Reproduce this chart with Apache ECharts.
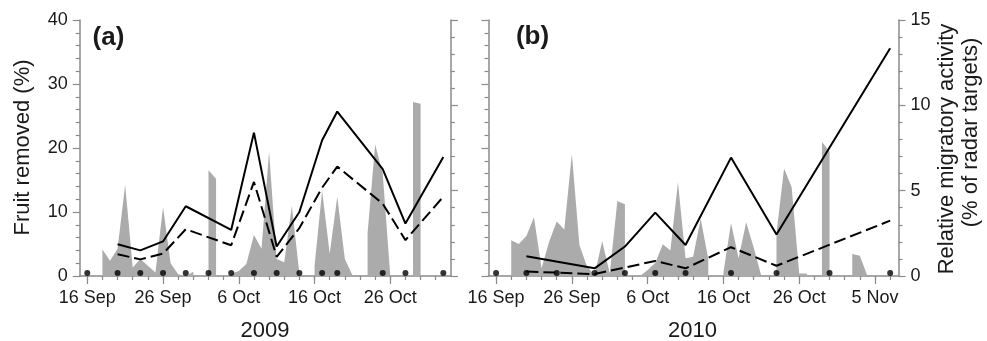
<!DOCTYPE html>
<html><head><meta charset="utf-8">
<script src="https://cdn.jsdelivr.net/npm/echarts@6/dist/echarts.min.js"></script>
<style>html,body{margin:0;padding:0;background:#fff}#c{width:987px;height:341px}</style>
</head><body><div id="c"></div>
<script>
// Days counted from 16 Sep of each year
const tickDays2009 = [0, 10, 20, 30, 40];
const tickLabels2009 = ['16 Sep', '26 Sep', '6 Oct', '16 Oct', '26 Oct'];
const tickDays2010 = [0, 10, 20, 30, 40, 50];
const tickLabels2010 = ['16 Sep', '26 Sep', '6 Oct', '16 Oct', '26 Oct', '5 Nov'];
const minorDays2009 = [0,2,4,6,8,10,12,14,16,18,20,22,24,26,28,30,32,34,36,38,40,42,44,46];
const minorDays2010 = [0,2,4,6,8,10,12,14,16,18,20,22,24,26,28,30,32,34,36,38,40,42,44,46,48,50,52];

// Sampling dates (black dots)
const sampleDays2009 = [0, 4, 7, 10, 13, 16, 19, 22, 25, 28, 31, 33, 39, 42, 47];
const sampleDays2010 = [0, 4, 8, 13, 17, 21, 25, 31, 37, 44, 52];

// Fruit removed (%) — solid and dashed lines
const fruitDays2009 = [4, 7, 10, 13, 19, 22, 25, 28, 31, 33, 39, 42, 47];
const fruitSolid2009 = [4.95, 4.0, 5.4, 10.9, 7.2, 22.4, 4.6, 10.0, 21.2, 25.7, 16.7, 8.2, 18.6];
const fruitDashed2009 = [3.4, 2.6, 3.5, 7.3, 4.8, 14.7, 3.0, 7.5, 13.8, 17.1, 11.3, 5.6, 12.4];
const fruitDays2010 = [4, 13, 17, 21, 25, 31, 37, 52];
const fruitSolid2010 = [3.1, 1.2, 4.6, 9.9, 4.85, 18.5, 6.5, 35.6];
const fruitDashed2010 = [0.7, 0.3, null, 2.35, 1.2, 4.5, 1.6, 8.65];

// Relative migratory activity (% of radar targets), one value per day from day 0
const radar2009 = [null, null, 1.55, 0.9, 1.6, 5.35, 0.5, 1.0, 0.6, 0.2, 4.05, 0.75, 0.1, 0, 0.25, null,
  6.2, 5.7, null, 0.15, 0.3, 0.7, 2.4, 1.6, 7.3, 1.0, 0.8, 4.1, 0.15, null,
  0.6, 5.0, 1.3, 4.65, 1.0, 0.05, null, 2.5, 7.7, 6.0, 0, null, null, 10.2, 10.1, null, null, null, null];
const radar2010 = [null, null, 2.1, 1.88, 2.34, 3.44, 0.45, 2.0, 3.2, 2.73, 7.15, 1.8, 0.55, 0.05, 2.05, 0.15,
  4.4, 4.2, null, 0, 0.35, 0.76, 1.86, 1.5, 5.5, 1.04, 1.13, 3.35, 1.0, null,
  0.2, 3.1, 1.04, 3.15, 1.65, 0, null, 2.5, 6.3, 5.2, 0.15, 0.15, null, 7.85, 7.3, null, null,
  1.29, 1.18, 0, null, null, null, null];

const FONT = 'Liberation Sans, Arial, sans-serif';
const AX = '#8a8a8a';
const TXT = '#1a1a1a';

const pairs = (xs, ys) => xs.map((x, i) => [x, ys[i]]);
const daily = ys => ys.map((v, i) => [i, v]);

function xMain(grid, min, max, days, labels) {
  return {
    type: 'value', gridIndex: grid, min, max, position: 'bottom',
    axisLine: { show: true, onZero: false, lineStyle: { color: AX, width: 1.5 } },
    axisTick: { show: true, customValues: days, length: 8, lineStyle: { color: AX, width: 1.2 } },
    axisLabel: { show: true, customValues: days, margin: 13, color: TXT, fontSize: 18, fontFamily: FONT,
      formatter: v => { const k = days.indexOf(v); return k >= 0 ? labels[k] : ''; } },
    splitLine: { show: false }
  };
}
function xMinor(grid, min, max, days) {
  return {
    type: 'value', gridIndex: grid, min, max, position: 'bottom',
    axisLine: { show: false, onZero: false },
    axisTick: { show: true, customValues: days, length: 4, lineStyle: { color: AX, width: 1.2 } },
    axisLabel: { show: false }, splitLine: { show: false }
  };
}
function yAx(grid, pos, max, interval, showLabel) {
  return {
    type: 'value', gridIndex: grid, position: pos, min: 0, max, interval,
    axisLine: { show: true, onZero: false, lineStyle: { color: AX, width: 1.5 } },
    axisTick: { show: true, length: 7, lineStyle: { color: AX, width: 1.2 } },
    minorTick: { show: true, splitNumber: 5, length: 4, lineStyle: { color: AX, width: 1.2 } },
    axisLabel: { show: showLabel, margin: 12, color: TXT, fontSize: 18, fontFamily: FONT },
    splitLine: { show: false }
  };
}

const areaSeries = (xi, yi, data) => ({
  type: 'line', xAxisIndex: xi, yAxisIndex: yi, data, showSymbol: false, connectNulls: false,
  lineStyle: { width: 0 }, areaStyle: { color: '#ababab', opacity: 1 }, z: 1, silent: true
});
const lineSeries = (xi, yi, data, dashed) => ({
  type: 'line', xAxisIndex: xi, yAxisIndex: yi, data, showSymbol: false, connectNulls: true,
  lineStyle: { color: '#000', width: 2, type: dashed ? [12, 5] : 'solid' }, z: 3
});
const dotSeries = (xi, yi, days) => ({
  type: 'scatter', xAxisIndex: xi, yAxisIndex: yi, data: days.map(d => [d, 0]),
  symbol: 'circle', symbolSize: 6, symbolOffset: [0, -3], itemStyle: { color: '#000' }, z: 4, clip: false
});

const chart = echarts.init(document.getElementById('c'), null, { renderer: 'canvas' });
chart.setOption({
  animation: false,
  backgroundColor: '#fff',
  grid: [
    { left: 79.7, top: 20, width: 371.2, height: 256 },
    { left: 488.5, top: 20, width: 410, height: 256 }
  ],
  xAxis: [
    xMain(0, -1, 48, tickDays2009, tickLabels2009),
    xMain(1, -1, 53.1, tickDays2010, tickLabels2010),
    xMinor(0, -1, 48, minorDays2009),
    xMinor(1, -1, 53.1, minorDays2010)
  ],
  yAxis: [
    yAx(0, 'left', 40, 10, true),
    yAx(0, 'right', 15, 5, false),
    yAx(1, 'left', 40, 10, false),
    yAx(1, 'right', 15, 5, true)
  ],
  series: [
    areaSeries(0, 1, daily(radar2009)),
    areaSeries(1, 3, daily(radar2010)),
    lineSeries(0, 0, pairs(fruitDays2009, fruitSolid2009), false),
    lineSeries(0, 0, pairs(fruitDays2009, fruitDashed2009), true),
    lineSeries(1, 2, pairs(fruitDays2010, fruitSolid2010), false),
    lineSeries(1, 2, pairs(fruitDays2010, fruitDashed2010), true),
    dotSeries(0, 0, sampleDays2009),
    dotSeries(1, 2, sampleDays2010)
  ],
  graphic: [
    { type: 'text', x: 22.5, y: 147.5, rotation: Math.PI / 2,
      style: { text: 'Fruit removed (%)', font: '22px ' + FONT, fill: TXT, textAlign: 'center', textVerticalAlign: 'middle' } },
    { type: 'text', x: 947, y: 149, rotation: Math.PI / 2,
      style: { text: 'Relative migratory activity', font: '22px ' + FONT, fill: TXT, textAlign: 'center', textVerticalAlign: 'middle' } },
    { type: 'text', x: 971, y: 132.5, rotation: Math.PI / 2,
      style: { text: '(% of radar targets)', font: '22px ' + FONT, fill: TXT, textAlign: 'center', textVerticalAlign: 'middle' } },
    { type: 'text', x: 108.5, y: 37.5,
      style: { text: '(a)', font: 'bold 26px ' + FONT, fill: TXT, textAlign: 'center', textVerticalAlign: 'middle' } },
    { type: 'text', x: 532.5, y: 37,
      style: { text: '(b)', font: 'bold 26px ' + FONT, fill: TXT, textAlign: 'center', textVerticalAlign: 'middle' } },
    { type: 'text', x: 265, y: 331,
      style: { text: '2009', font: '22px ' + FONT, fill: TXT, textAlign: 'center', textVerticalAlign: 'middle' } },
    { type: 'text', x: 692.5, y: 330.5,
      style: { text: '2010', font: '22px ' + FONT, fill: TXT, textAlign: 'center', textVerticalAlign: 'middle' } }
  ]
});
</script></body></html>
